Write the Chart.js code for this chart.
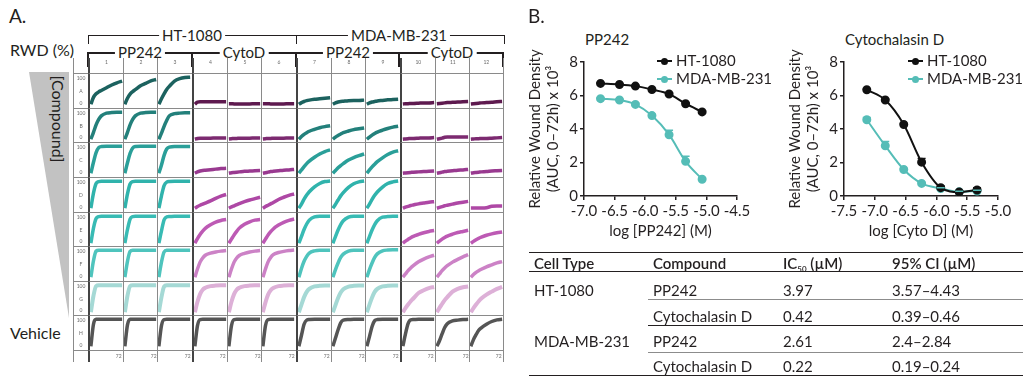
<!DOCTYPE html>
<html lang="en">
<head>
<meta charset="UTF-8">
<title>Wound density: PP242 and Cytochalasin D</title>
<script src="https://cdn.jsdelivr.net/npm/chart.js"></script>
<style>
body {
margin: 0;
background: #fff;
font-family: Lato, "Noto Sans", sans-serif;
color: #231f20;
}
#page {
position: relative;
width: 1031px;
height: 384px;
overflow: hidden;
}
.abs {
position: absolute;
white-space: nowrap;
line-height: 18px;
}
.panel-label { font-size: 19px; line-height: 22px; }
.big { font-size: 16px; line-height: 20px; }
.grp-text {
font-size: 15px;
background: #fff;
padding: 0 3px;
transform: translate(-50%, -50%);
}
.bracket {
position: absolute;
box-sizing: border-box;
border: 1.5px solid #231f20;
border-bottom: none;
}
.tick {
position: absolute;
width: 2px;
background: #231f20;
}
.hline {
position: absolute;
height: 1.5px;
background: #231f20;
}
#wedge {
position: absolute;
left: 29px;
top: 72px;
width: 40px;
height: 246px;
background: #c2c2c2;
clip-path: polygon(0 0, 100% 0, 100% 100%);
}
#compound {
position: absolute;
left: 58px;
top: 119px;
font-size: 16px;
transform: translate(-50%, -50%) rotate(90deg);
white-space: nowrap;
}
#grid {
position: absolute;
left: 73px;
top: 58px;
display: grid;
grid-template-columns: 15px repeat(12, 34.667px);
grid-template-rows: 15px repeat(8, 34.625px) 12px;
}
.cell {
position: relative;
box-sizing: border-box;
border-left: 1px solid #8a8a8a;
}
.cell.bt { border-top: 1px solid #8a8a8a; }
.cell.grpL { border-left: 2px solid #444; }
.cell.lastC { border-right: 1px solid #8a8a8a; }
.cell canvas { position: absolute; left: 0; top: 0; }
.tiny {
position: absolute;
left: 0;
right: 0;
text-align: center;
font-size: 5px;
line-height: 5px;
color: #6a6a6a;
will-change: transform;
}
.ftr .tiny { text-align: right; right: 1px; top: 3px; }
.legend {
position: absolute;
font-size: 15px;
}
.leg-item {
height: 18px;
line-height: 18px;
white-space: nowrap;
}
.leg-mark {
display: inline-block;
position: relative;
width: 15px;
height: 2px;
background: var(--c);
vertical-align: middle;
margin: 0 4px 2px 0;
}
.leg-mark::after {
content: "";
position: absolute;
left: 4px;
top: -2.5px;
width: 7px;
height: 7px;
border-radius: 50%;
background: var(--c);
}
#ic50 {
position: absolute;
left: 529px;
top: 252px;
width: 494px;
border-collapse: collapse;
font-size: 15px;
border-top: 1.5px solid #231f20;
border-bottom: 1.5px solid #231f20;
}
#ic50 th {
font-weight: 600;
text-align: left;
padding: 2px 5px 0;
line-height: 16px;
height: 16px;
border-bottom: 1.5px solid #231f20;
}
#ic50 th sub {
font-size: 8px;
line-height: 0;
vertical-align: baseline;
position: relative;
top: 3px;
}
#ic50 td {
text-align: left;
vertical-align: top;
padding: 0 5px;
line-height: 18px;
}
#ic50 tr.first td { border-bottom: 1px solid #8c8c8c; }
#ic50 tr.first td.cell-type { border-bottom: none; }
#ic50 tr.group-end td { border-bottom: 1px solid #231f20; }
</style>
</head>
<body>
<div id="page">

<!-- panel A -->
<div class="abs panel-label" style="left:9px;top:5px">A.</div>
<div class="abs big" style="left:10px;top:40px">RWD (%)</div>
<div id="wedge"></div>
<div id="compound">[Compound]</div>
<div class="abs big" style="left:10px;top:323px">Vehicle</div>

<div class="bracket" style="left:88px;top:35px;width:209px;height:9px"></div>
<div class="bracket" style="left:296px;top:35px;width:209px;height:9px"></div>
<div class="abs grp-text" style="left:192px;top:35px">HT-1080</div>
<div class="abs grp-text" style="left:399px;top:35px">MDA-MB-231</div>

<div class="hline" style="left:88px;top:52px;width:416px"></div>
<div class="tick" style="left:87px;top:52px;height:15px"></div>
<div class="tick" style="left:191px;top:52px;height:15px"></div>
<div class="tick" style="left:295px;top:52px;height:15px"></div>
<div class="tick" style="left:398px;top:52px;height:15px"></div>
<div class="tick" style="left:502px;top:52px;height:15px"></div>
<div class="abs grp-text" style="left:140px;top:52px">PP242</div>
<div class="abs grp-text" style="left:244px;top:52px">CytoD</div>
<div class="abs grp-text" style="left:348px;top:52px">PP242</div>
<div class="abs grp-text" style="left:452px;top:52px">CytoD</div>

<div id="grid"></div>

<!-- panel B -->
<div class="abs panel-label" style="left:528px;top:5px">B.</div>
<div class="abs" style="left:585px;top:30px;font-size:15px">PP242</div>
<div class="abs" style="left:845px;top:30px;font-size:15px">Cytochalasin D</div>

<canvas id="pp242Chart" width="240" height="245" style="position:absolute;left:520px;top:0"></canvas>
<canvas id="cytoChart" width="271" height="245" style="position:absolute;left:760px;top:0"></canvas>

<div class="legend" style="left:657px;top:51px">
<div class="leg-item"><span class="leg-mark" style="--c:#111"></span>HT-1080</div>
<div class="leg-item"><span class="leg-mark" style="--c:#55bdb7"></span>MDA-MB-231</div>
</div>
<div class="legend" style="left:908px;top:51px">
<div class="leg-item"><span class="leg-mark" style="--c:#111"></span>HT-1080</div>
<div class="leg-item"><span class="leg-mark" style="--c:#55bdb7"></span>MDA-MB-231</div>
</div>

<table id="ic50">
<colgroup><col style="width:119px"><col style="width:130px"><col style="width:109px"><col style="width:136px"></colgroup>
<thead>
<tr><th>Cell Type</th><th>Compound</th><th>IC<sub>50</sub> (µM)</th><th>95% CI (µM)</th></tr>
</thead>
<tbody>
<tr class="first" style="height:27px"><td class="cell-type" rowspan="2" style="padding-top:9px">HT-1080</td><td style="padding-top:9px">PP242</td><td style="padding-top:9px">3.97</td><td style="padding-top:9px">3.57–4.43</td></tr>
<tr class="group-end" style="height:26px"><td style="padding-top:7px">Cytochalasin D</td><td style="padding-top:7px">0.42</td><td style="padding-top:7px">0.39–0.46</td></tr>
<tr class="first" style="height:27px"><td class="cell-type" rowspan="2" style="padding-top:6px">MDA-MB-231</td><td style="padding-top:6px">PP242</td><td style="padding-top:6px">2.61</td><td style="padding-top:6px">2.4–2.84</td></tr>
<tr style="height:21px"><td style="padding-top:4px">Cytochalasin D</td><td style="padding-top:4px">0.22</td><td style="padding-top:4px">0.19–0.24</td></tr>
</tbody>
</table>

</div>

<script>
// ---- panel A: RWD (%) over 0-72 h, one array per plate row, 12 wells each ----
const timeH = [0, 6, 12, 18, 24, 36, 48, 60, 72];
const rowLetters = ['A', 'B', 'C', 'D', 'E', 'F', 'G', 'H'];
const colNumbers = [1, 2, 3, 4, 5, 6, 7, 8, 9, 10, 11, 12];

const rwdRowA = [
[0, 25, 38, 45, 50, 60, 70, 78, 84],
[0, 22, 37, 46, 53, 67, 76, 85, 90],
[0, 20, 38, 54, 65, 84, 93, 97, 98],
[0, 8, 9, 9, 9, 9, 9, 9, 9],
[2, 2, 1, 1, 1, 1, 1, 2, 2],
[2, 2, 2, 1, 1, 1, 1, 2, 2],
[0, 6, 10, 13, 15, 18, 20, 22, 24],
[0, 5, 8, 10, 11, 13, 14, 14, 15],
[0, 5, 8, 10, 12, 14, 16, 17, 18],
[1, 2, 2, 3, 3, 4, 5, 5, 6],
[2, 3, 4, 5, 6, 7, 8, 9, 10],
[1, 2, 3, 4, 5, 6, 7, 9, 10]
];
const rwdRowB = [
[0, 25, 52, 72, 85, 95, 97, 98, 98],
[0, 25, 52, 72, 85, 95, 97, 98, 98],
[0, 22, 47, 68, 85, 93, 95, 96, 96],
[0, 3, 4, 4, 4, 4, 5, 5, 5],
[1, 2, 3, 3, 4, 4, 4, 5, 5],
[1, 2, 3, 3, 4, 4, 4, 5, 5],
[0, 10, 18, 24, 29, 36, 42, 46, 49],
[0, 8, 14, 19, 24, 30, 35, 38, 41],
[0, 8, 15, 21, 26, 33, 39, 44, 47],
[0, 1, 2, 3, 3, 4, 5, 5, 6],
[0, 2, 4, 7, 8, 8, 8, 8, 8],
[0, 1, 2, 2, 3, 3, 4, 5, 6]
];
const rwdRowC = [
[0, 40, 75, 93, 97, 98, 98, 98, 98],
[0, 38, 72, 92, 97, 98, 98, 98, 98],
[0, 30, 65, 88, 95, 97, 97, 97, 97],
[0, 5, 8, 10, 11, 13, 15, 17, 18],
[0, 2, 3, 4, 5, 7, 8, 9, 10],
[0, 2, 4, 6, 7, 9, 11, 12, 14],
[0, 12, 24, 35, 44, 58, 70, 79, 85],
[0, 10, 20, 28, 35, 48, 57, 64, 70],
[0, 12, 23, 33, 42, 56, 68, 77, 82],
[0, 1, 2, 3, 4, 5, 6, 7, 8],
[0, 2, 4, 6, 7, 9, 11, 12, 14],
[0, 2, 3, 4, 5, 6, 8, 9, 10]
];
const rwdRowD = [
[0, 55, 90, 97, 98, 98, 98, 98, 98],
[0, 52, 88, 97, 98, 98, 98, 98, 98],
[0, 45, 82, 95, 97, 98, 98, 98, 98],
[0, 6, 11, 15, 19, 27, 36, 44, 50],
[0, 5, 9, 13, 17, 24, 30, 35, 40],
[0, 6, 11, 16, 21, 32, 40, 47, 52],
[0, 15, 33, 48, 60, 78, 90, 97, 99],
[0, 14, 30, 45, 57, 76, 89, 96, 99],
[0, 15, 32, 47, 59, 77, 90, 96, 99],
[0, 4, 7, 10, 12, 16, 19, 22, 24],
[0, 3, 6, 9, 11, 15, 19, 22, 25],
[1, 1, 1, 1, 1, 2, 7, 8, 8]
];
const rwdRowE = [
[0, 55, 90, 97, 98, 98, 98, 98, 98],
[0, 50, 88, 97, 98, 98, 98, 98, 98],
[0, 45, 85, 96, 97, 98, 98, 98, 98],
[0, 17, 32, 44, 54, 67, 77, 83, 86],
[0, 15, 30, 43, 55, 69, 78, 84, 86],
[0, 15, 30, 42, 52, 66, 76, 83, 88],
[0, 25, 50, 70, 84, 96, 98, 98, 98],
[0, 24, 48, 68, 82, 95, 98, 98, 98],
[0, 24, 48, 68, 82, 95, 97, 98, 98],
[0, 8, 14, 20, 25, 32, 38, 43, 46],
[0, 8, 15, 21, 26, 33, 39, 43, 47],
[0, 7, 13, 18, 22, 29, 34, 38, 41]
];
const rwdRowF = [
[0, 60, 95, 98, 98, 98, 98, 98, 98],
[0, 58, 94, 98, 98, 98, 98, 98, 98],
[0, 55, 92, 98, 98, 98, 98, 98, 98],
[0, 30, 55, 70, 80, 88, 92, 95, 97],
[0, 30, 55, 70, 79, 87, 92, 95, 97],
[0, 30, 56, 72, 82, 90, 94, 97, 99],
[0, 32, 58, 76, 88, 96, 98, 98, 98],
[0, 28, 52, 72, 84, 95, 98, 98, 98],
[0, 28, 52, 72, 85, 96, 99, 100, 100],
[0, 12, 24, 34, 42, 56, 66, 74, 80],
[0, 12, 24, 34, 42, 55, 65, 74, 82],
[0, 10, 18, 24, 29, 38, 45, 52, 57]
];
const rwdRowG = [
[0, 60, 95, 98, 98, 98, 98, 98, 98],
[0, 60, 95, 98, 98, 98, 98, 98, 98],
[0, 55, 93, 98, 98, 98, 98, 98, 98],
[0, 38, 66, 82, 89, 95, 97, 98, 98],
[0, 38, 66, 82, 89, 95, 97, 98, 98],
[0, 36, 64, 80, 88, 95, 97, 98, 98],
[0, 28, 55, 74, 85, 94, 96, 97, 97],
[0, 26, 52, 72, 84, 93, 96, 97, 97],
[0, 28, 54, 74, 85, 94, 96, 97, 97],
[0, 15, 28, 40, 50, 70, 80, 88, 92],
[0, 16, 30, 44, 55, 75, 85, 91, 94],
[0, 15, 28, 40, 50, 64, 75, 85, 92]
];
const rwdRowH = [
[0, 80, 98, 98, 98, 98, 98, 98, 98],
[0, 78, 98, 98, 98, 98, 98, 98, 98],
[0, 75, 97, 98, 98, 98, 98, 98, 98],
[0, 75, 97, 98, 98, 98, 98, 98, 98],
[0, 75, 97, 98, 98, 98, 98, 98, 98],
[0, 75, 97, 98, 98, 98, 98, 98, 98],
[0, 40, 80, 95, 97, 98, 98, 98, 98],
[0, 30, 60, 85, 95, 97, 98, 98, 98],
[0, 35, 72, 93, 97, 98, 98, 98, 98],
[0, 45, 82, 96, 97, 98, 98, 98, 98],
[0, 20, 45, 68, 82, 92, 95, 97, 98],
[0, 24, 42, 58, 67, 80, 90, 96, 98]
];
const plateRows = [rwdRowA, rwdRowB, rwdRowC, rwdRowD, rwdRowE, rwdRowF, rwdRowG, rwdRowH];

// colour per row (high dose -> vehicle)
const pp242Colors = ['#1c625f', '#23807b', '#2a9f99', '#30b3ac', '#38bbb4', '#4fc4bd', '#a5d9d5', '#555555'];
const cytoColors = ['#5e1a4f', '#7c2a70', '#993a90', '#ae48a5', '#bd5ab4', '#cc82c6', '#ddb0d7', '#555555'];

// ---- panel B: dose response ----
const pp242LogDose = [-6.73, -6.42, -6.16, -5.89, -5.61, -5.34, -5.07];
const pp242Ht1080 = [6.72, 6.66, 6.56, 6.36, 6.09, 5.51, 5.02];
const pp242Ht1080Err = [0.04, 0.04, 0.04, 0.05, 0.06, 0.06, 0.05];
const pp242Mda231 = [5.81, 5.73, 5.47, 4.80, 3.66, 2.07, 1.00];
const pp242Mda231Err = [0.04, 0.05, 0.06, 0.08, 0.26, 0.30, 0.05];

const cytoLogDose = [-7.13, -6.83, -6.53, -6.24, -5.93, -5.63, -5.34];
const cytoHt1080 = [6.34, 5.73, 4.27, 2.02, 0.50, 0.24, 0.36];
const cytoHt1080Err = [0.04, 0.05, 0.06, 0.22, 0.10, 0.05, 0.14];
const cytoMda231 = [4.55, 3.00, 1.58, 0.75, 0.45, 0.25, 0.30];
const cytoMda231Err = [0.14, 0.26, 0.06, 0.05, 0.05, 0.04, 0.04];

const ink = '#231f20';
const htColor = '#111111';
const mdaColor = '#55bdb7';

Chart.defaults.font.family = 'Lato, "Noto Sans", sans-serif';
Chart.defaults.color = ink;

// build the plate grid
const grid = document.getElementById('grid');

function addCell(classes, html) {
const div = document.createElement('div');
div.className = 'cell ' + classes;
if (html) div.innerHTML = html;
grid.appendChild(div);
return div;
}

function colClasses(c) {
let cls = '';
if (c % 3 === 0) cls += ' grpL';
if (c === 11) cls += ' lastC';
return cls;
}

addCell('hdr');
colNumbers.forEach((n, c) => {
addCell('hdr' + colClasses(c), `<span class="tiny" style="top:2px">${n}</span>`);
});

plateRows.forEach((row, r) => {
addCell('bt lab',
`<span class="tiny" style="top:2px">100</span>` +
`<span class="tiny" style="top:15px">${rowLetters[r]}</span>` +
`<span class="tiny" style="bottom:2px">0</span>`);
row.forEach((values, c) => {
const cell = addCell('bt' + colClasses(c));
const canvas = document.createElement('canvas');
canvas.width = 33;
canvas.height = 33;
cell.appendChild(canvas);
const isPP242 = Math.floor(c / 3) % 2 === 0;
const color = isPP242 ? pp242Colors[r] : cytoColors[r];
const points = timeH.map((t, i) => ({x: t, y: values[i]}));
const datasets = [{data: points, borderColor: color, borderWidth: r === 6 ? 4 : 3.5}];
if (r === 6) {
// open markers in the lowest dose row
datasets.push({data: points, borderColor: '#fff', borderWidth: 1.2});
}
new Chart(canvas, {
type: 'line',
data: {datasets: datasets},
options: {
responsive: false,
animation: false,
events: [],
layout: {padding: 0},
plugins: {legend: {display: false}, tooltip: {enabled: false}},
elements: {
point: {radius: 0},
line: {cubicInterpolationMode: 'monotone'}
},
scales: {
x: {type: 'linear', min: -2, max: 74, display: false},
y: {min: -10, max: 110, display: false}
}
}
});
});
});

addCell('bt ftr');
colNumbers.forEach((n, c) => {
addCell('bt ftr' + colClasses(c), `<span class="tiny">72</span>`);
});

// error bars (upper only), drawn from the chart's own scales
const errorBarPlugin = {
id: 'errorBars',
afterDatasetsDraw(chart) {
const {ctx, scales: {x, y}} = chart;
chart.data.datasets.forEach(ds => {
if (!ds.errorUp) return;
ctx.save();
ctx.strokeStyle = ds.borderColor;
ctx.lineWidth = 1.5;
ds.data.forEach((p, j) => {
const px = x.getPixelForValue(p.x);
const py = y.getPixelForValue(p.y);
const pt = y.getPixelForValue(p.y + ds.errorUp[j]);
ctx.beginPath();
ctx.moveTo(px, py);
ctx.lineTo(px, pt);
ctx.moveTo(px - 4, pt);
ctx.lineTo(px + 4, pt);
ctx.stroke();
});
ctx.restore();
});
}
};

function makeDoseChart(id, doses, ht, htErr, mda, mdaErr, xMin, xMax, xTitle, padLeft, padRight) {
const toPts = vals => doses.map((d, i) => ({x: d, y: vals[i]}));
const series = (vals, err, color) => ({
data: toPts(vals),
errorUp: err,
borderColor: color,
backgroundColor: color,
pointBackgroundColor: color,
pointBorderColor: color,
borderWidth: 2,
pointRadius: 3.5,
cubicInterpolationMode: 'monotone'
});
new Chart(document.getElementById(id), {
type: 'line',
data: {
datasets: [
series(ht, htErr, htColor),
series(mda, mdaErr, mdaColor)
]
},
plugins: [errorBarPlugin],
options: {
responsive: false,
animation: false,
events: [],
layout: {padding: {left: padLeft, right: padRight, top: 62, bottom: 5}},
plugins: {legend: {display: false}, tooltip: {enabled: false}},
scales: {
x: {
type: 'linear',
min: xMin,
max: xMax,
border: {color: ink, width: 1.5},
grid: {drawOnChartArea: false, drawTicks: true, tickLength: 4, color: ink, lineWidth: 1.5},
ticks: {
stepSize: 0.5,
padding: 2,
maxRotation: 0,
autoSkip: false,
font: {size: 15},
callback: v => v.toFixed(1)
},
title: {display: true, text: xTitle, font: {size: 15}, padding: 0},
afterFit: s => { s.height = 44; }
},
y: {
min: 0,
max: 8,
border: {color: ink, width: 1.5},
grid: {drawOnChartArea: false, drawTicks: true, tickLength: 4, color: ink, lineWidth: 1.5},
ticks: {stepSize: 2, padding: 2, font: {size: 15}},
title: {
display: true,
text: ['Relative Wound Density', '(AUC, 0–72h) x 10³'],
font: {size: 15},
padding: 0
},
afterFit: s => { s.width = 58; }
}
}
}
});
}

makeDoseChart('pp242Chart', pp242LogDose, pp242Ht1080, pp242Ht1080Err, pp242Mda231, pp242Mda231Err,
-7.0, -4.5, 'log [PP242] (M)', 6, 23);
makeDoseChart('cytoChart', cytoLogDose, cytoHt1080, cytoHt1080Err, cytoMda231, cytoMda231Err,
-7.5, -5.0, 'log [Cyto D] (M)', 26, 33);
</script>
</body>
</html>
